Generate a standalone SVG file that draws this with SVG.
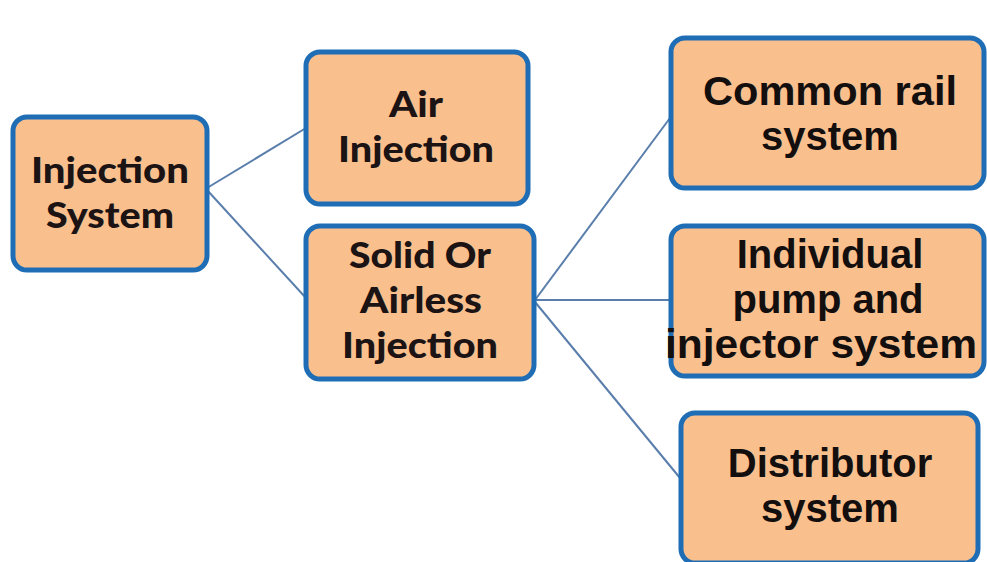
<svg xmlns="http://www.w3.org/2000/svg" width="987" height="562" viewBox="0 0 987 562">
<style>
.box{fill:#f9c08e;stroke:#1f6db5;stroke-width:5}
.l{font-family:Lato,"Open Sans",sans-serif;font-weight:900;font-size:36px;fill:#1c1414;text-anchor:middle}
.r{font-family:"Liberation Sans",Arial,sans-serif;font-weight:700;font-size:40px;fill:#140f0f;text-anchor:middle}
.c{stroke:#5a7eac;stroke-width:2;fill:none}
</style>
<rect width="987" height="562" fill="#ffffff"/>
<g id="connectors">
<line class="c" x1="207" y1="188" x2="306" y2="128"/>
<line class="c" x1="207" y1="190" x2="306" y2="298"/>
<line class="c" x1="535" y1="300" x2="670" y2="118"/>
<line class="c" x1="535" y1="300" x2="670" y2="300"/>
<line class="c" x1="535" y1="302" x2="680" y2="478"/>
</g>
<g id="injection-system">
<rect class="box" x="13" y="117" width="194" height="153" rx="14"/>
<text class="l" x="110" y="183" textLength="158" lengthAdjust="spacingAndGlyphs">Injection</text>
<text class="l" x="110" y="228" textLength="128" lengthAdjust="spacingAndGlyphs">System</text>
</g>
<g id="air-injection">
<rect class="box" x="306" y="52" width="222" height="152" rx="14"/>
<text class="l" x="416" y="117" textLength="54" lengthAdjust="spacingAndGlyphs">Air</text>
<text class="l" x="416" y="162" textLength="156" lengthAdjust="spacingAndGlyphs">Injection</text>
</g>
<g id="solid-injection">
<rect class="box" x="306" y="226" width="228" height="153" rx="14"/>
<text class="l" x="420" y="268" textLength="142" lengthAdjust="spacingAndGlyphs">Solid Or</text>
<text class="l" x="421" y="313" textLength="122" lengthAdjust="spacingAndGlyphs">Airless</text>
<text class="l" x="420" y="358" textLength="156" lengthAdjust="spacingAndGlyphs">Injection</text>
</g>
<g id="common-rail">
<rect class="box" x="671" y="38" width="313" height="150" rx="14"/>
<text class="r" x="830" y="105" textLength="254" lengthAdjust="spacingAndGlyphs">Common rail</text>
<text class="r" x="830" y="150">system</text>
</g>
<g id="individual-pump">
<rect class="box" x="671" y="226" width="313" height="150" rx="14"/>
<text class="r" x="830" y="268">Individual</text>
<text class="r" x="828" y="313">pump and</text>
<text class="r" x="821" y="358" textLength="312" lengthAdjust="spacingAndGlyphs">injector system</text>
</g>
<g id="distributor">
<rect class="box" x="681" y="413" width="297" height="150" rx="14"/>
<text class="r" x="830" y="477">Distributor</text>
<text class="r" x="830" y="522">system</text>
</g>
</svg>
